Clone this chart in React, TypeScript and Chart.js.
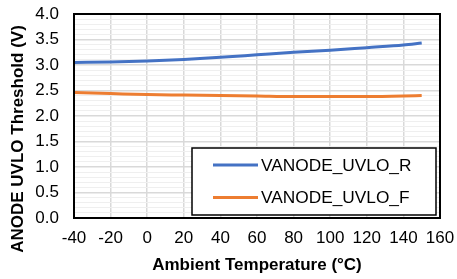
import React, { useEffect, useRef } from "react";
import { Chart, registerables } from "chart.js";

Chart.register(...registerables);

const temperatures = [-40, -20, 0, 20, 40, 60, 80, 100, 120, 140, 150];
const vanodeR = [3.05, 3.06, 3.08, 3.11, 3.15, 3.2, 3.25, 3.29, 3.34, 3.39, 3.43];
const vanodeF = [2.46, 2.44, 2.42, 2.41, 2.4, 2.39, 2.38, 2.38, 2.38, 2.39, 2.4];
const seriesNames = ["VANODE_UVLO_R", "VANODE_UVLO_F"];
const seriesColors = ["#4472C4", "#ED7D31"];
const xTitle = "Ambient Temperature (°C)";
const yTitle = "ANODE UVLO Threshold (V)";

const FONT = "'Liberation Sans', Arial, sans-serif";

const isMajor = (v: number) => Math.abs(v * 2 - Math.round(v * 2)) < 1e-6;

const framePlugin = {
  id: "frame",
  afterDatasetsDraw(chart: any) {
    const { ctx, chartArea } = chart;
    const { left, right, top, bottom } = chartArea;
    ctx.save();
    ctx.strokeStyle = "#000";
    ctx.lineWidth = 2;
    ctx.strokeRect(left, top, right - left, bottom - top);

    // legend
    const lx = right - 248;
    const ly = bottom - 70;
    const lw = 244;
    const lh = 67;
    ctx.fillStyle = "#fff";
    ctx.fillRect(lx, ly, lw, lh);
    ctx.lineWidth = 1.5;
    ctx.strokeStyle = "#000";
    ctx.strokeRect(lx, ly, lw, lh);
    chart.data.datasets.forEach((ds: any, i: number) => {
      const cy = ly + 17 + i * 32.5;
      ctx.strokeStyle = ds.borderColor;
      ctx.lineWidth = 3;
      ctx.beginPath();
      ctx.moveTo(lx + 21, cy);
      ctx.lineTo(lx + 66, cy);
      ctx.stroke();
      ctx.fillStyle = "#000";
      ctx.font = `17.3px ${FONT}`;
      ctx.textAlign = "left";
      ctx.textBaseline = "middle";
      ctx.fillText(ds.label, lx + 69, cy + 1);
    });

    // axis titles
    ctx.fillStyle = "#000";
    ctx.font = `bold 17px ${FONT}`;
    ctx.textAlign = "center";
    ctx.textBaseline = "middle";
    ctx.fillText(xTitle, (left + right) / 2, 265);
    ctx.translate(18, 139);
    ctx.rotate(-Math.PI / 2);
    ctx.fillText(yTitle, 0, 0);
    ctx.restore();
  },
};

export default function App() {
  const canvasRef = useRef<HTMLCanvasElement | null>(null);

  useEffect(() => {
    if (!canvasRef.current) return;
    const chart = new Chart(canvasRef.current, {
      type: "line",
      data: {
        datasets: [
          {
            label: seriesNames[0],
            data: temperatures.map((t, i) => ({ x: t, y: vanodeR[i] })),
            borderColor: seriesColors[0],
            borderWidth: 3,
            pointRadius: 0,
            cubicInterpolationMode: "monotone",
          },
          {
            label: seriesNames[1],
            data: temperatures.map((t, i) => ({ x: t, y: vanodeF[i] })),
            borderColor: seriesColors[1],
            borderWidth: 3,
            pointRadius: 0,
            cubicInterpolationMode: "monotone",
          },
        ],
      },
      options: {
        animation: false,
        responsive: false,
        layout: { padding: { top: 14, right: 17, left: 0, bottom: 0 } },
        plugins: { legend: { display: false }, tooltip: { enabled: false } },
        scales: {
          x: {
            type: "linear",
            min: -40,
            max: 160,
            afterFit: (s: any) => {
              s.height = 61;
              s.paddingLeft = 0;
              s.paddingRight = 0;
            },
            ticks: {
              stepSize: 20,
              color: "#000",
              padding: 10,
              font: { family: FONT, size: 17 },
            },
            grid: { color: "#d9d9d9", lineWidth: 1.5, drawTicks: false },
            border: { display: false },
          },
          y: {
            min: 0,
            max: 4,
            afterFit: (s: any) => {
              s.width = 74;
              s.paddingTop = 0;
              s.paddingBottom = 0;
            },
            ticks: {
              stepSize: 0.1,
              autoSkip: false,
              color: "#000",
              padding: 15,
              font: { family: FONT, size: 17 },
              callback: (v: any) => (isMajor(Number(v)) ? Number(v).toFixed(1) : ""),
            },
            grid: {
              drawTicks: false,
              color: (c: any) => (isMajor(c.tick?.value ?? 0) ? "#d9d9d9" : "#efefef"),
              lineWidth: (c: any) => (isMajor(c.tick?.value ?? 0) ? 1.5 : 1),
            },
            border: { display: false },
          },
        },
      },
      plugins: [framePlugin],
    } as any);
    return () => chart.destroy();
  }, []);

  return (
    <div style={{ position: "fixed", left: 0, top: 0, width: 457, height: 279, background: "#fff" }}>
      <canvas ref={canvasRef} width={457} height={279} style={{ width: 457, height: 279 }} />
    </div>
  );
}
